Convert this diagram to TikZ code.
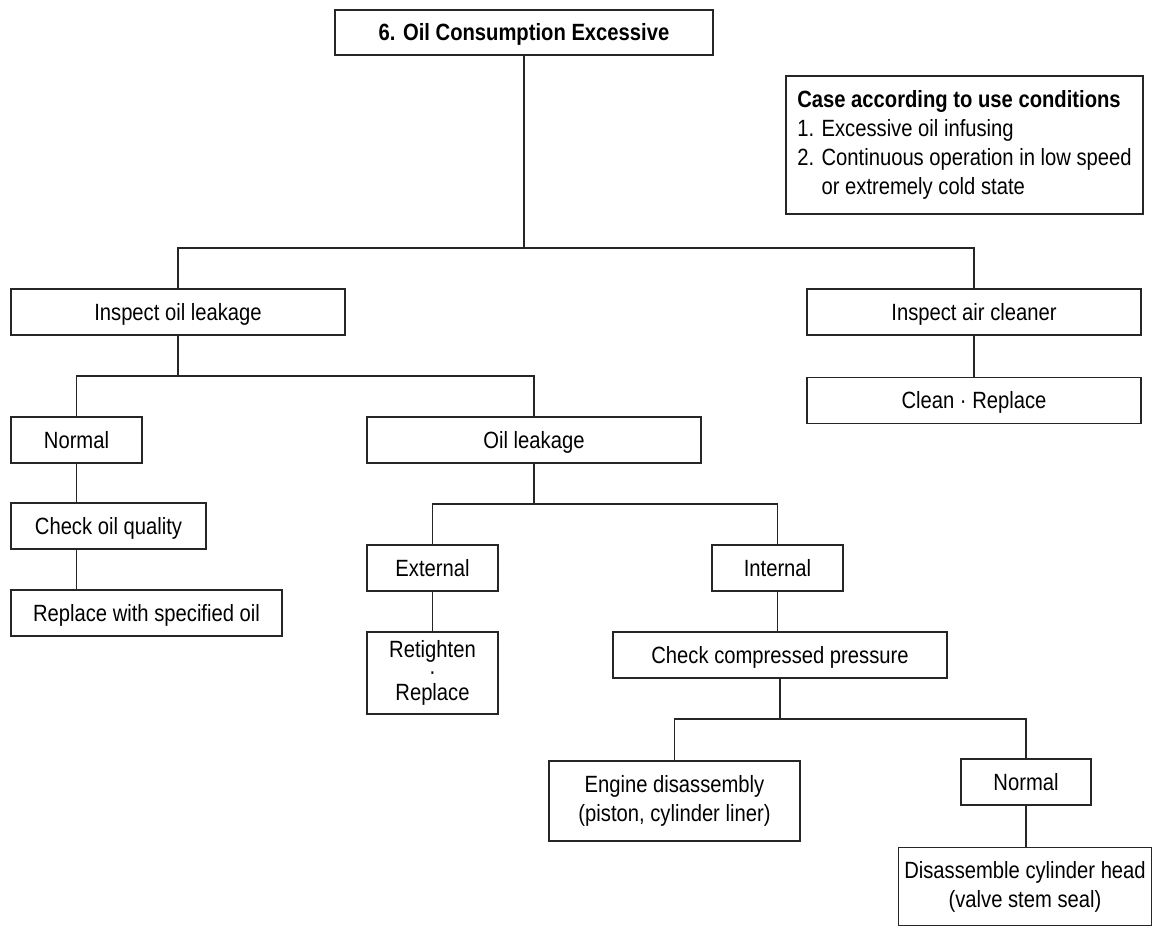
\documentclass[tikz,border=0pt]{standalone}
\usepackage{fontspec}
\setmainfont{Liberation Sans}[FakeStretch=0.86]
\usetikzlibrary{positioning}

\begin{document}
\begin{tikzpicture}[
  x=1pt, y=1pt,
  base/.style     = {draw=black!85, line width=1.1pt, minimum height=46pt, inner sep=0pt, align=center, font=\fontsize{23.5}{29}\selectfont},
  box/.style      = {base, text height=16.8pt, text depth=0pt},
  titlebox/.style = {box, line width=2.4pt, font=\fontsize{23.5}{29}\selectfont\bfseries},
  link/.style     = {draw=black!85, line width=1.1pt},
  node distance   = 41pt
]
  \useasboundingbox (0,0) rectangle (1153,-927);

  \node[titlebox, minimum width=378pt, minimum height=45pt] (title) at (524,-32.5) {6. Oil Consumption Excessive};
  \node[base, minimum width=357pt, minimum height=138pt, align=left] (case) at (964.5,-145)
    {\textbf{Case according to use conditions}\\1. Excessive oil infusing\\2. Continuous operation in low speed\\\hphantom{2. }or extremely cold state};

  \node[box, minimum width=334pt] (inspoil) at (178,-312) {Inspect oil leakage};
  \node[box, minimum width=334pt] (inspair) at (974,-312) {Inspect air cleaner};
  \node[box, minimum width=334pt, below=of inspair] (clean) {Clean · Replace};

  \node[box, minimum width=131pt] (normA)   at (76.5,-440) {Normal};
  \node[box, minimum width=334pt] (oilleak) at (534,-440)  {Oil leakage};
  \node[box, minimum width=195pt] (chkq)    at (108.5,-526) {Check oil quality};
  \node[box, minimum width=271pt] (repl)    at (146.5,-613) {Replace with specified oil};

  \node[box, minimum width=131pt] (ext) at (432.5,-568) {External};
  \node[box, minimum width=131pt] (int) at (777.5,-568) {Internal};
  \node[base, minimum width=131pt, minimum height=82pt, font=\fontsize{23.5}{21.5}\selectfont] (retight) at (432.5,-673) {Retighten\\·\\Replace};
  \node[box, minimum width=334pt] (chkp) at (780,-655) {Check compressed pressure};

  \node[base, minimum width=251pt, minimum height=80pt] (engine) at (674.5,-801) {Engine disassembly\\(piston, cylinder liner)};
  \node[box, minimum width=130pt] (normB) at (1026,-782) {Normal};
  \node[base, minimum width=253pt, minimum height=78pt] (disas) at (1025,-886.5) {Disassemble cylinder head\\(valve stem seal)};

  % branch points
  \coordinate (j1) at (524,-248);
  \coordinate (j2) at (178,-376);
  \coordinate (j3) at (534,-504);
  \coordinate (j4) at (780,-719);

  \draw[link] (title) -- (j1);
  \draw[link] (inspoil.north) |- (j1) -| (inspair.north);
  \draw[link] (inspair) -- (clean);

  \draw[link] (inspoil) -- (j2);
  \draw[link] (normA.north) |- (j2) -| (oilleak.north);
  \draw[link] (normA.south) -- (normA.south |- chkq.north);
  \draw[link] (normA.south |- chkq.south) -- (normA.south |- repl.north);

  \draw[link] (oilleak) -- (j3);
  \draw[link] (ext.north) |- (j3) -| (int.north);
  \draw[link] (ext) -- (retight);
  \draw[link] (int.south) -- (int.south |- chkp.north);

  \draw[link] (chkp) -- (j4);
  \draw[link] (engine.north) |- (j4) -| (normB.north);
  \draw[link] (normB.south) -- (normB.south |- disas.north);
\end{tikzpicture}
\end{document}
